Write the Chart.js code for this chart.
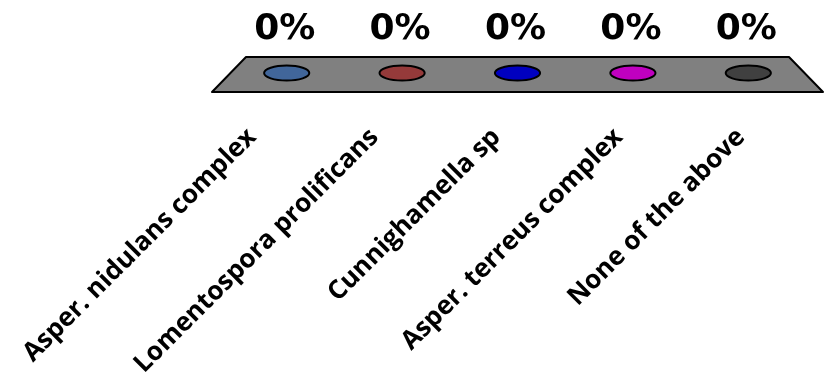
<!DOCTYPE html>
<html>
<head>
<meta charset="utf-8">
<script src="https://cdn.jsdelivr.net/npm/chart.js@4/dist/chart.umd.min.js"></script>
<style>
  html, body { margin: 0; padding: 0; background: #fff; }
  #wrap { width: 831px; height: 379px; }
</style>
</head>
<body>
<div id="wrap"><canvas id="c"></canvas></div>
<script>
// Answer options and the share of responses each one received
const categories = [
  'Asper. nidulans complex',
  'Lomentospora prolificans',
  'Cunnighamella sp',
  'Asper. terreus complex',
  'None of the above'
];
const shares = [0, 0, 0, 0, 0];
const barColors = ['#41669A', '#953A3A', '#0000C0', '#C000C0', '#404040'];

// 3D floor geometry
const FLOOR_DEPTH = 35;          // px from front edge to back edge
const BACK_RATIO = 543 / 611;    // back edge width relative to front edge
const MID_RATIO = (1 + BACK_RATIO) / 2;

const floor3d = {
  id: 'floor3d',
  beforeDatasetsDraw(chart) {
    const { ctx, chartArea: a, scales: { y } } = chart;
    const front = y.getPixelForValue(0);
    const back = front - FLOOR_DEPTH;
    const cx = (a.left + a.right) / 2;
    const half = (a.right - a.left) / 2;
    ctx.save();
    ctx.beginPath();
    ctx.moveTo(a.left, front);
    ctx.lineTo(a.right, front);
    ctx.lineTo(cx + half * BACK_RATIO, back);
    ctx.lineTo(cx - half * BACK_RATIO, back);
    ctx.closePath();
    ctx.fillStyle = '#808080';
    ctx.fill();
    ctx.lineWidth = 2;
    ctx.lineJoin = 'round';
    ctx.strokeStyle = '#000';
    ctx.stroke();
    ctx.restore();
  },
  afterDatasetsDraw(chart) {
    const { ctx, chartArea: a, scales: { x, y } } = chart;
    const cx = (a.left + a.right) / 2;
    const step = x.getPixelForValue(1) - x.getPixelForValue(0);
    const rx = step * 0.185, ry = 7.5;
    ctx.save();
    shares.forEach((v, i) => {
      const bx = cx + (x.getPixelForValue(i) - cx) * MID_RATIO;
      const by = y.getPixelForValue(v) - FLOOR_DEPTH * 0.54;
      // top of the (zero-height) column
      ctx.beginPath();
      ctx.ellipse(bx, by, rx, ry, 0, 0, Math.PI * 2);
      ctx.fillStyle = barColors[i];
      ctx.fill();
      ctx.lineWidth = 2;
      ctx.strokeStyle = '#000';
      ctx.stroke();
      // value label
      ctx.fillStyle = '#000';
      ctx.font = 'bold 36px "DejaVu Sans"';
      ctx.textAlign = 'center';
      ctx.textBaseline = 'alphabetic';
      ctx.fillText(Math.round(v * 100) + '%', bx - 2, by - 34);
    });
    ctx.restore();
  }
};

new Chart(document.getElementById('c'), {
  type: 'bar',
  data: {
    labels: categories,
    datasets: [{
      data: shares,
      backgroundColor: 'rgba(0,0,0,0)',
      borderWidth: 0
    }]
  },
  options: {
    responsive: true,
    maintainAspectRatio: false,
    animation: false,
    devicePixelRatio: 1,
    layout: { padding: { left: 212, right: 8, top: 57, bottom: 0 } },
    plugins: { legend: { display: false }, tooltip: { enabled: false } },
    scales: {
      x: {
        grid: { display: false },
        border: { display: false },
        afterFit(scale) { scale.height = 287; scale.paddingLeft = 0; scale.paddingRight = 0; },
        ticks: {
          autoSkip: false,
          minRotation: 45,
          maxRotation: 45,
          labelOffset: -21,
          padding: 22,
          color: '#000',
          font: { family: '"Open Sans"', weight: 'bold', size: 26 }
        }
      },
      y: {
        display: false,
        min: 0,
        max: 1
      }
    }
  },
  plugins: [floor3d]
});
</script>
</body>
</html>
